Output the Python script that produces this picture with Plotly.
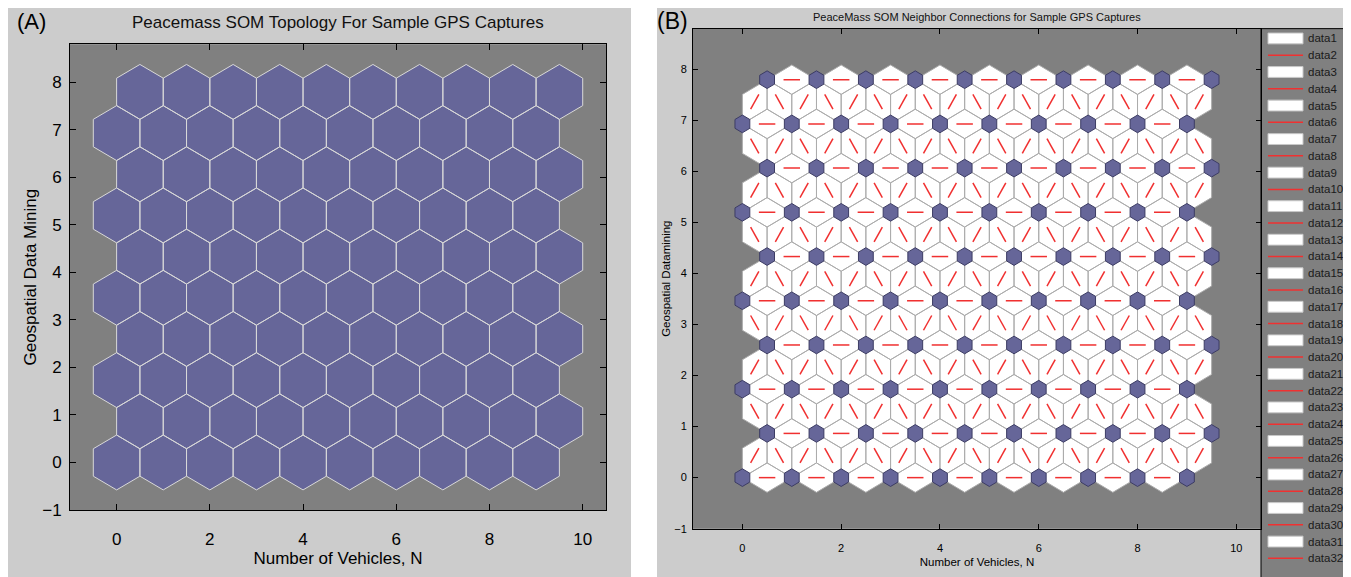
import math
import plotly.graph_objects as go

# The page body adds an 8px margin, so the figure is drawn 8px smaller and
# reference pixel positions are shifted by that offset.
PAGE_OFF = 8
FIG_W, FIG_H = 1351 - PAGE_OFF, 577 - PAGE_OFF

# ---------------- data ----------------
som_rows = [0, 1, 2, 3, 4, 5, 6, 7, 8, 9]          # SOM grid rows (hextop)
som_cols = [0, 1, 2, 3, 4, 5, 6, 7, 8, 9]          # SOM grid columns
row_shift = [0.0, 0.5, 0.0, 0.5, 0.0, 0.5, 0.0, 0.5, 0.0, 0.5]
x_tick_vals = [0, 2, 4, 6, 8, 10]
y_tick_vals = [-1, 0, 1, 2, 3, 4, 5, 6, 7, 8]
legend_labels = ["data1", "data2", "data3", "data4", "data5", "data6", "data7", "data8",
                 "data9", "data10", "data11", "data12", "data13", "data14", "data15", "data16",
                 "data17", "data18", "data19", "data20", "data21", "data22", "data23", "data24",
                 "data25", "data26", "data27", "data28", "data29", "data30", "data31", "data32"]

title_a = "Peacemass SOM Topology For Sample GPS Captures"
title_b = "PeaceMass SOM Neighbor Connections for Sample GPS Captures"
xlabel = "Number of Vehicles, N"
ylabel_a = "Geospatial Data Mining"
ylabel_b = "Geospatial Datamining"

# ---------------- geometry (hextop layout) ----------------
ROW_H = math.sqrt(0.75)
positions = [(c + row_shift[r], r * ROW_H) for r in som_rows for c in som_cols]
x_min = min(p[0] for p in positions); x_max = max(p[0] for p in positions)
y_min = min(p[1] for p in positions); y_max = max(p[1] for p in positions)
x_range = [x_min - 1, x_max + 1]
y_range = [y_min - 1, y_max + 1]

z = math.sqrt(0.75) / 3
hex_x = [-0.5, 0.0, 0.5, 0.5, 0.0, -0.5]
hex_y = [z, 2 * z, z, -z, -2 * z, -z]


def hex_path(scale):
    xs, ys = [], []
    for (px_, py_) in positions:
        for k in range(6):
            xs.append(px_ + hex_x[k] * scale)
            ys.append(py_ + hex_y[k] * scale)
        xs.append(px_ + hex_x[0] * scale)
        ys.append(py_ + hex_y[0] * scale)
        xs.append(None); ys.append(None)
    return xs, ys


# neighbor connections (distance <= 1)
conn = []
n = len(positions)
for i in range(n):
    for j in range(i + 1, n):
        dx = positions[j][0] - positions[i][0]
        dy = positions[j][1] - positions[i][1]
        if math.hypot(dx, dy) <= 1.001:
            conn.append((i, j))

half_w = 1 / (2 * math.sqrt(3))
dia_x, dia_y, red_x, red_y = [], [], [], []
for (i, j) in conn:
    (xi, yi), (xj, yj) = positions[i], positions[j]
    ux, uy = xj - xi, yj - yi
    vx, vy = -uy * half_w, ux * half_w
    mx, my = (xi + xj) / 2, (yi + yj) / 2
    dia_x += [xi, mx + vx, xj, mx - vx, xi, None]
    dia_y += [yi, my + vy, yj, my - vy, yi, None]
    red_x += [xi + ux / 3, xi + 2 * ux / 3, None]
    red_y += [yi + uy / 3, yi + 2 * uy / 3, None]

# ---------------- figure ----------------
FONT = "Liberation Sans, Arial, sans-serif"
fig = go.Figure()

ax_hex_x, ax_hex_y = hex_path(1.0)
fig.add_trace(go.Scatter(x=ax_hex_x, y=ax_hex_y, mode="lines", fill="toself",
                         fillcolor="#666699", line=dict(color="#d8d8d8", width=1),
                         xaxis="x", yaxis="y", showlegend=False, hoverinfo="skip"))

fig.add_trace(go.Scatter(x=dia_x, y=dia_y, mode="lines", fill="toself",
                         fillcolor="#ffffff", line=dict(color="#acacac", width=1),
                         xaxis="x2", yaxis="y2", showlegend=False, hoverinfo="skip"))
fig.add_trace(go.Scatter(x=red_x, y=red_y, mode="lines",
                         line=dict(color="#f03030", width=1.5),
                         xaxis="x2", yaxis="y2", showlegend=False, hoverinfo="skip"))
bn_x, bn_y = hex_path(0.3)
fig.add_trace(go.Scatter(x=bn_x, y=bn_y, mode="lines", fill="toself",
                         fillcolor="#666699", line=dict(color="#3c3c64", width=1),
                         xaxis="x2", yaxis="y2", showlegend=False, hoverinfo="skip"))


def px(x):
    return (x - PAGE_OFF) / FIG_W


def py(y):
    return 1 - (y - PAGE_OFF) / FIG_H


axis_common = dict(showgrid=False, zeroline=False, showline=True, linecolor="black",
                   linewidth=1, mirror="ticks", ticks="inside", tickcolor="black",
                   fixedrange=True)

fig.update_layout(
    width=FIG_W, height=FIG_H,
    margin=dict(l=0, r=0, t=0, b=0),
    paper_bgcolor="white", plot_bgcolor="#808080",
    showlegend=False,
    font=dict(family=FONT, color="black"),
    xaxis=dict(domain=[px(70), px(606)], range=x_range, tickvals=x_tick_vals,
               anchor="y", ticklen=6, tickfont=dict(size=17, family=FONT),
               ticklabelstandoff=14,
               title=dict(text=xlabel, font=dict(size=17, family=FONT), standoff=3),
               **axis_common),
    yaxis=dict(domain=[py(519), py(45)], range=y_range, tickvals=y_tick_vals,
               anchor="x", ticklen=6, tickfont=dict(size=17, family=FONT),
               ticklabelstandoff=4,
               title=dict(text=ylabel_a, font=dict(size=17, family=FONT), standoff=1),
               **axis_common),
    xaxis2=dict(domain=[px(693), px(1261)], range=x_range, tickvals=x_tick_vals,
                anchor="y2", ticklen=5, tickfont=dict(size=11, family=FONT),
                ticklabelstandoff=9,
                title=dict(text=xlabel, font=dict(size=11.5, family=FONT), standoff=5),
                **axis_common),
    yaxis2=dict(domain=[py(538), py(29)], range=y_range, tickvals=y_tick_vals,
                anchor="x2", ticklen=5, tickfont=dict(size=11, family=FONT),
                ticklabelstandoff=3,
                title=dict(text=ylabel_b, font=dict(size=11.5, family=FONT), standoff=1),
                **axis_common),
)

shapes = [
    dict(type="rect", xref="paper", yref="paper", x0=px(4), x1=px(631), y0=py(600), y1=py(4),
         fillcolor="#cccccc", line=dict(width=0), layer="below"),
    dict(type="rect", xref="paper", yref="paper", x0=px(657), x1=px(1360), y0=py(600), y1=py(3),
         fillcolor="#cccccc", line=dict(width=0), layer="below"),
    dict(type="rect", xref="x domain", yref="y domain", x0=0, x1=1, y0=0, y1=1,
         fillcolor="#808080", line=dict(width=0), layer="below"),
    dict(type="rect", xref="x2 domain", yref="y2 domain", x0=0, x1=1, y0=0, y1=1,
         fillcolor="#808080", line=dict(width=0), layer="below"),
    dict(type="rect", xref="paper", yref="paper", x0=px(1261), x1=px(1365), y0=py(600), y1=py(29),
         fillcolor="#808080", line=dict(color="black", width=1), layer="below"),
]

annotations = [
    dict(text="(A)", x=px(31), y=py(22), xref="paper", yref="paper", showarrow=False,
         xanchor="center", yanchor="middle",
         font=dict(size=22, family=FONT, color="black")),
    dict(text="(B)", x=px(672), y=py(21), xref="paper", yref="paper", showarrow=False,
         xanchor="center", yanchor="middle",
         font=dict(size=23, family=FONT, color="black")),
    dict(text=title_a, x=px(338), y=py(23), xref="paper", yref="paper", showarrow=False,
         xanchor="center", yanchor="middle",
         font=dict(size=17, family=FONT, color="#111111")),
    dict(text=title_b, x=px(977), y=py(17), xref="paper", yref="paper", showarrow=False,
         xanchor="center", yanchor="middle",
         font=dict(size=11, family=FONT, color="#111111")),
]

ITEM0, ITEM_DY = 39.0, 17.07
for k, lab in enumerate(legend_labels):
    yc = ITEM0 + k * ITEM_DY
    if k % 2 == 0:
        shapes.append(dict(type="rect", xref="paper", yref="paper",
                           x0=px(1268), x1=px(1303), y0=py(yc + 5.5), y1=py(yc - 5.5),
                           fillcolor="white", line=dict(color="#c8c8c8", width=1)))
    else:
        shapes.append(dict(type="line", xref="paper", yref="paper",
                           x0=px(1268), x1=px(1303), y0=py(yc), y1=py(yc),
                           line=dict(color="#f03030", width=1.5)))
    annotations.append(dict(text=lab, x=px(1306), y=py(yc), xref="paper", yref="paper",
                            xanchor="left", yanchor="middle", showarrow=False,
                            font=dict(size=11.5, family=FONT, color="#1a1a1a")))

fig.update_layout(shapes=shapes, annotations=annotations)
fig.write_html("out.html")
